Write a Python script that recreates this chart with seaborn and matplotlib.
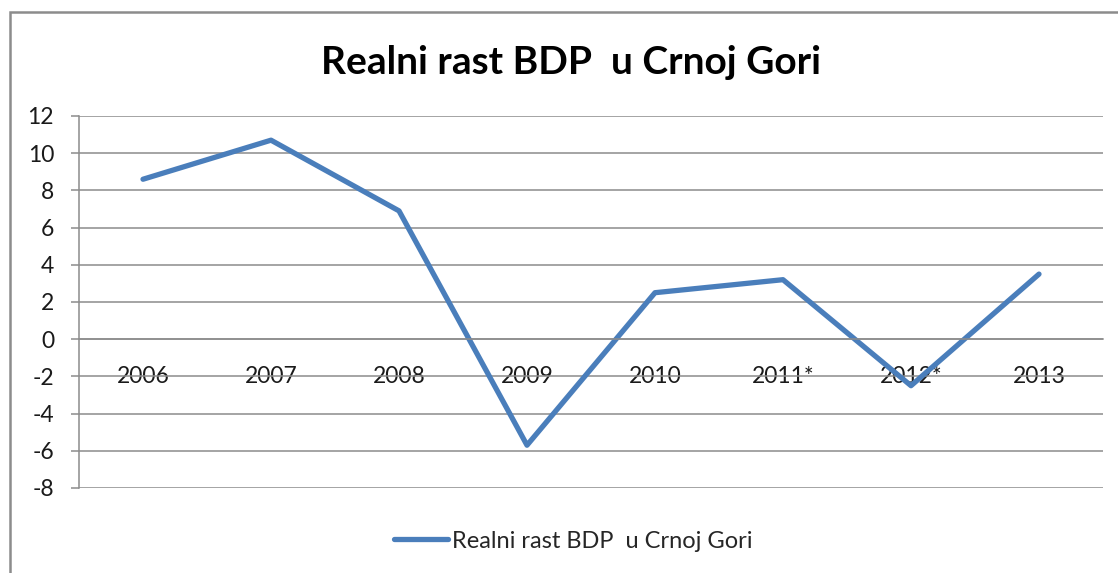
import pandas as pd
import seaborn as sns
import matplotlib.pyplot as plt
from matplotlib.patches import Rectangle
from matplotlib.ticker import FixedLocator

years = ["2006", "2007", "2008", "2009", "2010", "2011*", "2012*", "2013"]
growth = [8.6, 10.7, 6.9, -5.7, 2.5, 3.2, -2.5, 3.5]
y_ticks = [-8, -6, -4, -2, 0, 2, 4, 6, 8, 10, 12]
series_name = "Realni rast BDP  u Crnoj Gori"

df = pd.DataFrame({"year": years, "growth": growth, "series": series_name})

sns.set_style("white")
plt.rcParams["font.family"] = ["Lato", "DejaVu Sans"]

W, H = 1118, 573
fig = plt.figure(figsize=(W / 100, H / 100), dpi=100)
ax = fig.add_axes([79 / W, 1 - 488 / H, (1103 - 79) / W, (488 - 116) / H])

grid_c = "#8c8c8c"
line_c = "#4A7EBB"

sns.lineplot(data=df, x="year", y="growth", hue="series", palette=[line_c],
             linewidth=3.8, sort=False, ax=ax, legend=False)

ax.set_xlim(-0.5, len(years) - 0.5)
ax.set_ylim(-8, 12)
ax.set_yticks(y_ticks)
ax.set_yticklabels([str(v) for v in y_ticks])
ax.grid(axis="y", color=grid_c, linewidth=1.1)
ax.set_axisbelow(True)

# category axis sits on the zero line
for s in ["top", "right"]:
    ax.spines[s].set_visible(False)
ax.spines["bottom"].set_position(("data", 0))
ax.spines["bottom"].set_color(grid_c)
ax.spines["bottom"].set_linewidth(1.1)
ax.spines["left"].set_color(grid_c)
ax.spines["left"].set_linewidth(1.1)

ax.set_xticks(range(len(years)))
ax.set_xticklabels(years)
ax.xaxis.set_minor_locator(FixedLocator([i + 0.5 for i in range(len(years))]))
ax.tick_params(axis="x", which="major", length=0, pad=19, labelsize=16.5, colors="#1a1a1a")
ax.tick_params(axis="x", which="minor", length=6, width=1.1, color=grid_c, direction="out")
ax.tick_params(axis="y", which="major", length=6, width=1.1, color=grid_c, direction="out",
               pad=12, labelsize=16.5, labelcolor="#1a1a1a", left=True)

ax.set_xlabel("")
ax.set_ylabel("")

fig.text(571 / W, 1 - 62 / H, "Realni rast BDP  u Crnoj Gori", ha="center", va="center",
         fontsize=28, fontweight="bold", color="black")

# legend at the bottom
handle = plt.Line2D([], [], color=line_c, linewidth=3.8)
fig.legend([handle], [series_name], loc="center", bbox_to_anchor=(573 / W, 1 - 541 / H),
           frameon=False, fontsize=17, handlelength=2.3, handletextpad=0.15)

# outer chart border (runs off the right and bottom edges)
fig.add_artist(Rectangle((10 / W, -0.1), 1.2, 1.1 - 12 / H, transform=fig.transFigure,
                         fill=False, edgecolor="#8c8c8c", linewidth=1.8))

plt.savefig("out.png", dpi=100)
